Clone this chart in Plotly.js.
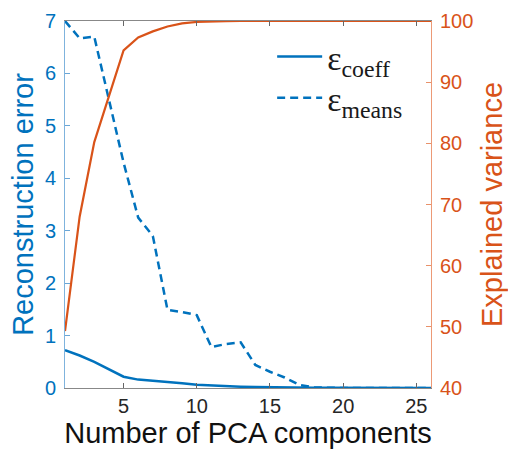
<!DOCTYPE html>
<html>
<head>
<meta charset="utf-8">
<script src="https://cdn.plot.ly/plotly-3.0.1.min.js"></script>
<style>html,body{margin:0;padding:0;background:#fff;}#chart{width:508px;height:449px;}</style>
</head>
<body>
<div id="chart"></div>
<script>
// Number of PCA components
var components = [1,2,3,4,5,6,7,8,9,10,11,12,13,14,15,16,17,18,19,20,21,22,23,24,25,26];
// Reconstruction error, epsilon_coeff (solid)
var errCoeff = [0.72,0.62,0.50,0.36,0.215,0.16,0.14,0.12,0.09,0.06,0.045,0.035,0.025,0.018,0.012,0.008,0.006,0.004,0.003,0.002,0.002,0.001,0.001,0.001,0.001,0.001];
// Reconstruction error, epsilon_means (dashed)
var errMeans = [7.0,6.67,6.70,5.50,4.30,3.25,2.90,1.49,1.45,1.39,0.78,0.84,0.87,0.44,0.31,0.20,0.06,0.01,0.0,0.0,0.0,0.0,0.0,0.0,0.0,0.0];
// Explained variance (%)
var explVar = [49.3,68.0,80.2,87.7,95.2,97.3,98.3,99.1,99.6,99.85,99.95,99.98,100,100,100,100,100,100,100,100,100,100,100,100,100,100];

var blue = '#0072BD', orange = '#D95319';

var traces = [
  {x: components, y: explVar, yaxis: 'y2', mode: 'lines', line: {color: orange, width: 2.2}, showlegend: false, hoverinfo: 'skip'},
  {x: components, y: errCoeff, mode: 'lines', name: 'ε<sub>coeff</sub>', legend: 'legend', line: {color: blue, width: 2.5}},
  {x: components, y: errMeans, mode: 'lines', name: 'ε<sub>means</sub>', legend: 'legend2', line: {color: blue, width: 2.5, dash: '8px,5px'}}
];

var legFont = {family: 'Liberation Serif, serif', size: 34, color: '#1a1a1a'};

var layout = {
  width: 508, height: 449,
  margin: {l: 65, r: 77, t: 21, b: 61},
  paper_bgcolor: '#fff', plot_bgcolor: '#fff',
  font: {family: 'Liberation Sans, Arial, sans-serif'},
  showlegend: true,
  legend: {x: 0.566, y: 0.902, xanchor: 'left', yanchor: 'middle', bgcolor: 'rgba(0,0,0,0)',
           font: legFont, itemwidth: 45},
  legend2: {x: 0.566, y: 0.790, xanchor: 'left', yanchor: 'middle', bgcolor: 'rgba(0,0,0,0)',
           font: legFont, itemwidth: 45},
  xaxis: {range: [1, 26], tickvals: [5,10,15,20,25], ticks: 'inside', ticklen: 5, tickcolor: '#666',
          showline: true, linecolor: '#888', linewidth: 1, mirror: 'ticks', showgrid: false, zeroline: false,
          tickfont: {size: 20, color: '#262626'},
          title: {text: 'Number of PCA components', font: {size: 29, color: '#111'}, standoff: 6}},
  yaxis: {range: [0, 7], tickvals: [0,1,2,3,4,5,6,7], ticks: 'inside', ticklen: 5, tickcolor: '#6aa6d6',
          showline: true, linecolor: '#7fb3dd', linewidth: 1, showgrid: false, zeroline: false,
          tickfont: {size: 20, color: blue}, ticklabelstandoff: 4,
          title: {text: 'Reconstruction error', font: {size: 29, color: blue}, standoff: 2}},
  yaxis2: {range: [40, 100], tickvals: [40,50,60,70,80,90,100], overlaying: 'y', side: 'right',
           ticks: 'inside', ticklen: 5, tickcolor: '#e8916a',
           showline: true, linecolor: '#ec9a76', linewidth: 1, showgrid: false, zeroline: false,
           tickfont: {size: 20, color: orange}, ticklabelstandoff: 4,
           title: {text: 'Explained variance', font: {size: 29, color: orange}, standoff: 11}}
};

Plotly.newPlot('chart', traces, layout, {displayModeBar: false, staticPlot: true});
</script>
</body>
</html>
